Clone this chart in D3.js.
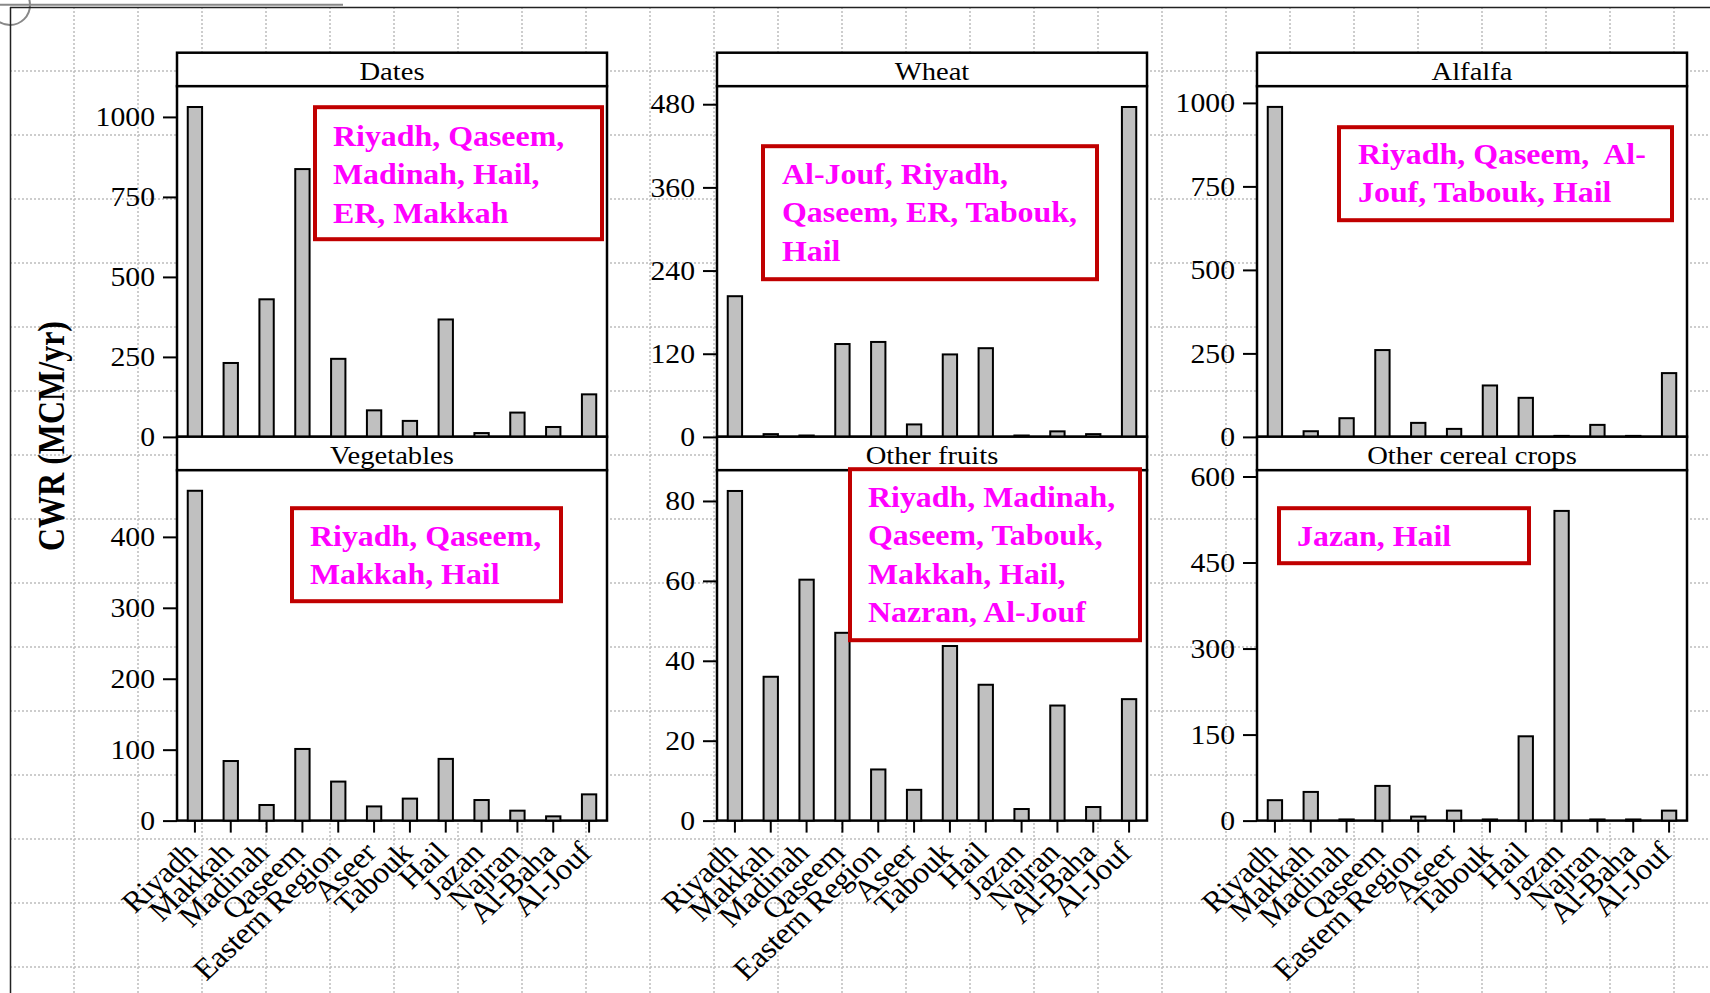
<!DOCTYPE html>
<html>
<head>
<meta charset="utf-8">
<script src="https://cdn.jsdelivr.net/npm/d3@7"></script>
<style>
  body { margin: 0; background: #fff; }
  svg text { font-family: "Liberation Serif", "Times New Roman", serif; }
</style>
</head>
<body>
<div id="chart"></div>
<script>
// regions on the x axis (same for every panel)
var regions = ["Riyadh", "Makkah", "Madinah", "Qaseem", "Eastern Region", "Aseer",
  "Tabouk", "Hail", "Jazan", "Najran", "Al-Baha", "Al-Jouf"];
var crops = ["Dates", "Wheat", "Alfalfa", "Vegetables", "Other fruits", "Other cereal crops"];

// CWR (MCM/yr) per region
var dates        = [1031, 231, 430, 837, 244, 83, 50, 367, 12, 76, 31, 133];
var wheat        = [203, 4, 2, 134, 137, 18, 119, 128, 2, 8, 4, 476];
var alfalfa      = [988, 17, 56, 260, 42, 24, 154, 117, 3, 36, 3, 191];
var vegetables   = [465, 84, 22, 101, 55, 20, 31, 87, 29, 14, 6, 37];
var otherFruits  = [82.5, 36, 60.3, 47, 12.8, 7.7, 43.7, 34, 2.9, 28.8, 3.4, 30.4];
var otherCereals = [35.6, 50, 2, 60.5, 7, 17.4, 2, 147, 540, 2, 2, 17.4];
var series = [dates, wheat, alfalfa, vegetables, otherFruits, otherCereals];

// y tick labels and axis tops
var yTicks = [[0, 250, 500, 750, 1000], [0, 120, 240, 360, 480], [0, 250, 500, 750, 1000],
  [0, 100, 200, 300, 400], [0, 20, 40, 60, 80], [0, 150, 300, 450, 600]];
var yTop = [1096, 506, 1050, 494, 87.7, 611];

// text of the red boxes
var notes = [
  ["Riyadh, Qaseem,", "Madinah, Hail,", "ER, Makkah"],
  ["Al-Jouf, Riyadh,", "Qaseem, ER, Tabouk,", "Hail"],
  ["Riyadh, Qaseem,  Al-", "Jouf, Tabouk, Hail"],
  ["Riyadh, Qaseem,", "Makkah, Hail"],
  ["Riyadh, Madinah,", "Qaseem, Tabouk,", "Makkah, Hail,", "Nazran, Al-Jouf"],
  ["Jazan, Hail"]
];

var W = 1710, H = 993;
var colLeft = [177, 717, 1257], panelW = 430;
var rowTop = [52.7, 436.7], stripH = 33.5, plotH = [350.7, 350.4];
var sx = 1.1; // the original is a bit wider than tall

// box position inside each plot: [x, y, w, h, textX, firstBaseline]
var noteBox = [
  [138, 21, 287, 132, 156, 60],
  [46, 60, 334, 133, 65, 98],
  [82, 41, 333, 93, 101, 78],
  [115, 38, 269, 93, 133, 76],
  [133, -1, 290, 171, 151, 37],
  [22, 38, 250, 55, 40, 76]
];

var svg = d3.select("#chart").append("svg")
  .attr("width", W).attr("height", H);

// background page grid
var grid = svg.append("g");
d3.range(10 + 64, W, 64).forEach(function (x) {
  grid.append("line").attr("x1", x).attr("x2", x).attr("y1", 7).attr("y2", H)
    .attr("stroke", "#bdbdbd").attr("stroke-width", 1.5).attr("stroke-dasharray", "2,2");
});
d3.range(7 + 64, H, 64).forEach(function (y) {
  grid.append("line").attr("x1", 10).attr("x2", W).attr("y1", y).attr("y2", y)
    .attr("stroke", "#bdbdbd").attr("stroke-width", 1.5).attr("stroke-dasharray", "2,2");
});
svg.append("line").attr("x1", 0).attr("x2", 343).attr("y1", 4.7).attr("y2", 4.7)
  .attr("stroke", "#888").attr("stroke-width", 2);
svg.append("circle").attr("cx", 10).attr("cy", 5).attr("r", 20)
  .attr("fill", "none").attr("stroke", "#888").attr("stroke-width", 2);
svg.append("line").attr("x1", 10).attr("x2", W).attr("y1", 7.5).attr("y2", 7.5)
  .attr("stroke", "#222").attr("stroke-width", 1.5);
svg.append("line").attr("x1", 10.5).attr("x2", 10.5).attr("y1", 7).attr("y2", H)
  .attr("stroke", "#222").attr("stroke-width", 1.5);

var notesLayer = [];

crops.forEach(function (crop, i) {
  var row = Math.floor(i / 3), col = i % 3;
  var left = colLeft[col];
  var top = rowTop[row] + stripH;
  var h = plotH[row];
  var g = svg.append("g").attr("transform", "translate(" + left + "," + top + ")");

  var x = d3.scaleBand().domain(regions).range([0, panelW])
    .paddingInner(0.6).paddingOuter(0.3);
  var y = d3.scaleLinear().domain([0, yTop[i]]).range([h, 0]);

  // strip
  g.append("rect").attr("x", 0).attr("y", -stripH).attr("width", panelW).attr("height", stripH)
    .attr("fill", "#fff").attr("stroke", "#000").attr("stroke-width", 2.5);
  g.append("text")
    .attr("transform", "translate(" + panelW / 2 + "," + (-6.5) + ") scale(" + sx + ",1)")
    .attr("text-anchor", "middle").attr("font-size", 26).text(crop);

  g.append("rect").attr("width", panelW).attr("height", h)
    .attr("fill", "#fff").attr("stroke", "#000").attr("stroke-width", 2.5);

  g.selectAll("rect.bar").data(series[i]).enter().append("rect")
    .attr("class", "bar")
    .attr("x", function (d, j) { return x(regions[j]); })
    .attr("width", x.bandwidth())
    .attr("y", function (d) { return y(d); })
    .attr("height", function (d) { return h - y(d); })
    .attr("fill", "#c0c0c0").attr("stroke", "#000").attr("stroke-width", 2);

  // y axis
  var ya = g.append("g").call(d3.axisLeft(y).tickValues(yTicks[i])
    .tickFormat(d3.format("d")).tickSize(14).tickPadding(8));
  ya.select(".domain").remove();
  ya.selectAll(".tick line").attr("stroke-width", 2);
  ya.selectAll(".tick text")
    .attr("font-family", "Liberation Serif, Times New Roman, serif")
    .attr("font-size", 27).attr("fill", "#000")
    .attr("x", -22 / sx).attr("transform", "scale(" + sx + ",1)");

  // x axis only under the bottom row
  if (row === 1) {
    var xa = g.append("g").attr("transform", "translate(0," + h + ")")
      .call(d3.axisBottom(x).tickSize(12).tickFormat(""));
    xa.select(".domain").remove();
    xa.selectAll(".tick line").attr("stroke-width", 2);
    g.selectAll("text.xlab").data(regions).enter().append("text")
      .attr("class", "xlab")
      .attr("transform", function (d) {
        return "translate(" + (x(d) + x.bandwidth() / 2 + 4) + "," + (h + 34) + ") scale(1.07,1) rotate(-45)";
      })
      .attr("text-anchor", "end").attr("font-size", 30).attr("letter-spacing", -0.3)
      .text(function (d) { return d; });
  }

  notesLayer.push({ left: left, top: top, i: i });
});

// red annotation boxes on top of everything
notesLayer.forEach(function (p) {
  var b = noteBox[p.i];
  var g = svg.append("g").attr("transform", "translate(" + p.left + "," + p.top + ")");
  g.append("rect").attr("x", b[0]).attr("y", b[1]).attr("width", b[2]).attr("height", b[3])
    .attr("fill", "#fff").attr("stroke", "#c00000").attr("stroke-width", 4);
  notes[p.i].forEach(function (line, k) {
    g.append("text")
      .attr("transform", "translate(" + b[4] + "," + (b[5] + k * 38.2) + ") scale(" + sx + ",1)")
      .attr("font-size", 29).attr("font-weight", "bold").attr("fill", "#ff00ff")
      .style("white-space", "pre")
      .text(line);
  });
});

// y axis title
svg.append("text")
  .attr("transform", "translate(64,436) scale(1.2,1) rotate(-90)")
  .attr("text-anchor", "middle").attr("font-size", 32).attr("font-weight", "bold")
  .text("CWR (MCM/yr)");
</script>
</body>
</html>
